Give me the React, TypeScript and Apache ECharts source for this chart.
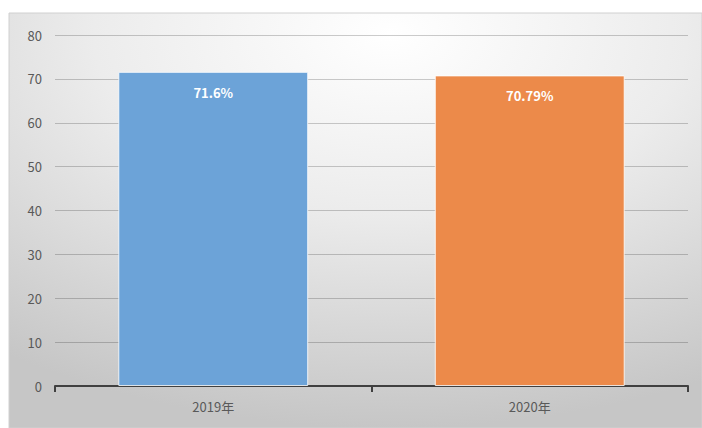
import React, { useEffect, useRef } from "react";
import * as echarts from "echarts";

const categories = ["2019年", "2020年"];
const values = [71.6, 70.79];
const valueLabels = ["71.6%", "70.79%"];
const barColors = ["#6ca3d8", "#ec8a4a"];
const yMin = 0;
const yMax = 80;
const yInterval = 10;

export default function App() {
  const ref = useRef<HTMLDivElement>(null);
  useEffect(() => {
    const chart = echarts.init(ref.current!, undefined, { renderer: "svg" });
    chart.setOption({
      animation: false,
      graphic: [
        {
          type: "rect",
          z: -10,
          silent: true,
          shape: { x: 9, y: 13, width: 693, height: 415 },
          style: {
            fill: {
              type: "radial",
              x: 0.55,
              y: 0.05,
              r: 0.95,
              colorStops: [
                { offset: 0, color: "#ffffff" },
                { offset: 0.45, color: "#ececec" },
                { offset: 1, color: "#c6c6c6" },
              ],
            },
            stroke: "#d0d0d0",
            lineWidth: 1,
          },
        },
      ],
      grid: { left: 55, right: 14, top: 35, bottom: 42, containLabel: false },
      xAxis: {
        type: "category",
        data: categories,
        axisLine: { lineStyle: { color: "#404040", width: 2 } },
        axisTick: { show: true, alignWithLabel: false, length: 6, lineStyle: { color: "#404040", width: 2 } },
        axisLabel: { color: "#595959", fontSize: 13, margin: 14, fontFamily: "'Noto Sans CJK SC', sans-serif" },
      },
      yAxis: {
        type: "value",
        min: yMin,
        max: yMax,
        interval: yInterval,
        axisLine: { show: false },
        axisTick: { show: false },
        axisLabel: { color: "#595959", fontSize: 13, margin: 13, fontFamily: "'Noto Sans CJK SC', sans-serif" },
        splitLine: { lineStyle: { color: "rgba(0,0,0,0.2)", width: 1 } },
      },
      series: [
        {
          type: "bar",
          barWidth: "60%",
          data: values.map((v, i) => ({
            value: v,
            itemStyle: { color: barColors[i], borderColor: "rgba(255,255,255,0.8)", borderWidth: 1 },
          })),
          label: {
            show: true,
            position: "insideTop",
            distance: 14,
            color: "#ffffff",
            fontSize: 13,
            fontWeight: "bold",
            fontFamily: "'Noto Sans CJK SC', sans-serif",
            formatter: (p: any) => valueLabels[p.dataIndex],
          },
        },
      ],
    });
    return () => chart.dispose();
  }, []);
  return (
    <div
      ref={ref}
      style={{ position: "fixed", left: 0, top: 0, width: 702, height: 428, background: "#ffffff" }}
    />
  );
}
